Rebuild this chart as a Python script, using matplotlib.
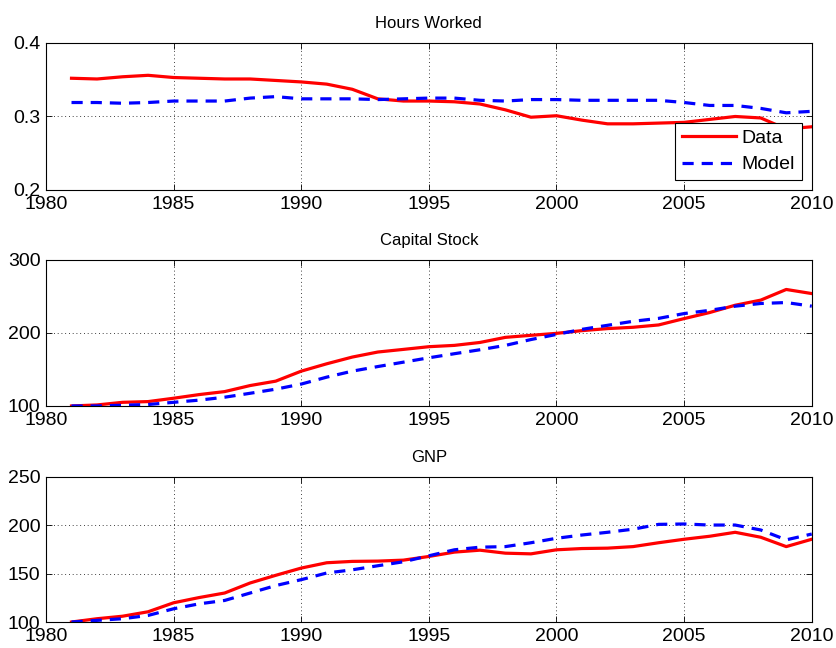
import numpy as np
import matplotlib
matplotlib.use('Agg')
import matplotlib.pyplot as plt

plt.rcParams['font.family'] = ['Liberation Sans', 'DejaVu Sans']

years = np.arange(1981, 2011)

# Hours worked
hours_data = [0.352, 0.351, 0.354, 0.356, 0.353, 0.352, 0.351, 0.351, 0.349, 0.347,
              0.344, 0.337, 0.324, 0.321, 0.321, 0.320, 0.317, 0.309, 0.299, 0.301,
              0.295, 0.290, 0.290, 0.291, 0.292, 0.296, 0.300, 0.298, 0.283, 0.286]
hours_model = [0.319, 0.319, 0.318, 0.319, 0.321, 0.321, 0.321, 0.325, 0.327, 0.324,
               0.324, 0.324, 0.323, 0.324, 0.325, 0.325, 0.322, 0.321, 0.323, 0.323,
               0.322, 0.322, 0.322, 0.322, 0.319, 0.315, 0.315, 0.311, 0.305, 0.307]

# Capital stock
capital_data = [100, 101.4, 105, 106, 110.6, 115.6, 119.7, 128, 134, 147.7,
                157.8, 167, 173.9, 177.5, 181.2, 183, 187, 194, 196.8, 199.5,
                203.2, 206, 207.8, 211, 219.7, 228, 238, 245, 259.6, 254]
capital_model = [100, 100, 101, 102, 105, 108, 112, 117.4, 123, 130,
                 139.5, 147.7, 154, 160, 166, 171.6, 177, 183, 191, 198,
                 205, 210.5, 216, 220, 226.6, 231, 236.7, 240.4, 241.7, 236.7]

# GNP
gnp_data = [100, 103.4, 106, 110.6, 119.9, 125.3, 130, 140.4, 148.3, 155.8,
            161.3, 162.7, 163, 164, 167.8, 172.3, 174.3, 171.2, 170.5, 174.7,
            176, 176.4, 178, 182, 185.6, 188.7, 192.8, 187.7, 178, 185.6]
gnp_model = [100, 101.7, 103.4, 106.8, 113.7, 118.8, 122.3, 130, 137.7, 143.8,
             150.7, 154, 158.2, 162.3, 168.5, 174.7, 177.4, 178, 182, 186.6,
             190, 192.8, 196, 201, 201.4, 200.3, 200.3, 195.2, 185, 191]

titles = ['Hours Worked', 'Capital Stock', 'GNP']
ylims = [(0.2, 0.4), (100, 300), (100, 250)]
yticks = [[0.2, 0.3, 0.4], [100, 200, 300], [100, 150, 200, 250]]
ytick_labels = [['0.2', '0.3', '0.4'], ['100', '200', '300'], ['100', '150', '200', '250']]
xticks = [1980, 1985, 1990, 1995, 2000, 2005, 2010]

fig = plt.figure(figsize=(8.36, 6.48), dpi=100)
boxes = [[0.055, 0.7068, 0.916, 0.2269],
         [0.055, 0.3735, 0.916, 0.2253],
         [0.055, 0.0401, 0.916, 0.2238]]
series = [(hours_data, hours_model), (capital_data, capital_model), (gnp_data, gnp_model)]

for i in range(3):
    ax = fig.add_axes(boxes[i])
    d, m = series[i]
    ax.plot(years, d, color='#ff0000', lw=2.3, label='Data')
    ax.plot(years, m, color='#0000ff', lw=2.3, ls=(0, (3.5, 2.5)), label='Model')
    ax.set_xlim(1980, 2010)
    ax.set_ylim(*ylims[i])
    ax.set_xticks(xticks)
    ax.set_yticks(yticks[i])
    ax.set_yticklabels(ytick_labels[i])
    ax.tick_params(direction='in', top=True, right=True, labelsize=14, length=4, width=0.6, pad=4)
    ax.grid(True, color='black', ls=(0, (1, 3.5)), lw=0.6)
    for s in ax.spines.values():
        s.set_linewidth(0.8)
    ax.set_title(titles[i], fontsize=12, pad=11)
    if i == 0:
        leg = ax.legend(loc='lower right', fontsize=14, fancybox=False, edgecolor='black',
                        framealpha=1, handlelength=2.8, borderaxespad=0.5,
                        borderpad=0.35, labelspacing=0.45, handletextpad=0.3)
        leg.get_frame().set_linewidth(0.8)

fig.savefig('out.png', dpi=100)
